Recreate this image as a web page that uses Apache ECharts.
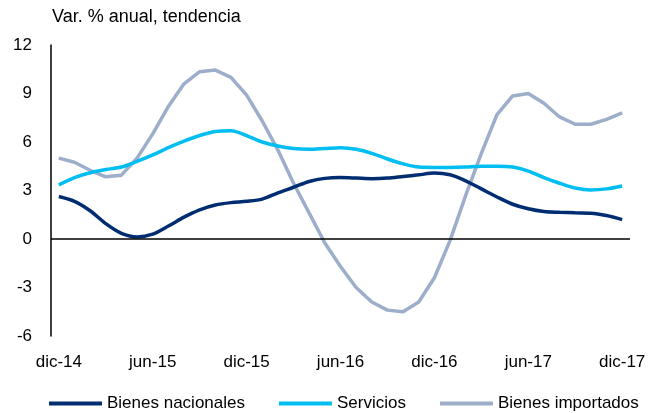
<!DOCTYPE html>
<html>
<head>
<meta charset="utf-8">
<script src="https://cdn.jsdelivr.net/npm/echarts@6/dist/echarts.min.js"></script>
<style>
  html, body { margin: 0; padding: 0; background: #fff; }
  #chart { width: 663px; height: 413px; }
</style>
</head>
<body>
<div id="chart"></div>
<script>
// meses dic-14 .. dic-17
const months = ['dic-14', 'ene-15', 'feb-15', 'mar-15', 'abr-15', 'may-15', 'jun-15', 'jul-15', 'ago-15', 'sep-15', 'oct-15', 'nov-15',
  'dic-15', 'ene-16', 'feb-16', 'mar-16', 'abr-16', 'may-16', 'jun-16', 'jul-16', 'ago-16', 'sep-16', 'oct-16', 'nov-16',
  'dic-16', 'ene-17', 'feb-17', 'mar-17', 'abr-17', 'may-17', 'jun-17', 'jul-17', 'ago-17', 'sep-17', 'oct-17', 'nov-17', 'dic-17']

const bienesNacionales = [2.63, 2.33, 1.75, 0.95, 0.35, 0.13, 0.3, 0.8, 1.35, 1.8, 2.1, 2.25,
  2.33, 2.47, 2.85, 3.2, 3.56, 3.75, 3.8, 3.77, 3.73, 3.77, 3.87, 3.97,
  4.08, 3.97, 3.6, 3.1, 2.6, 2.15, 1.87, 1.7, 1.65, 1.62, 1.6, 1.45, 1.2]

const servicios = [3.35, 3.8, 4.1, 4.3, 4.45, 4.8, 5.2, 5.65, 6.05, 6.4, 6.65, 6.7,
  6.4, 6.0, 5.75, 5.6, 5.55, 5.6, 5.65, 5.55, 5.3, 4.95, 4.65, 4.45,
  4.43, 4.43, 4.45, 4.5, 4.5, 4.45, 4.2, 3.8, 3.45, 3.15, 3.03, 3.1, 3.28]

const bienesImportados = [5.0, 4.75, 4.25, 3.85, 3.95, 5.0, 6.5, 8.2, 9.6, 10.35, 10.45, 10.0,
  8.9, 7.3, 5.5, 3.45, 1.6, -0.25, -1.7, -3.0, -3.9, -4.4, -4.5, -3.9,
  -2.4, -0.1, 2.7, 5.3, 7.7, 8.85, 9.0, 8.4, 7.55, 7.1, 7.1, 7.4, 7.8]

const font = 'Liberation Sans, Arial, sans-serif'

const chartInstance = echarts.init(document.getElementById('chart'))

const option = {
  backgroundColor: '#fff',
  animation: false,
  title: {
    text: 'Var. % anual, tendencia',
    left: 52,
    top: 8,
    padding: 0,
    textStyle: { fontFamily: font, fontSize: 18, fontWeight: 'normal', color: '#000' },
  },
  legend: {
    left: 44,
    top: 390,
    icon: 'rect',
    itemWidth: 53,
    itemHeight: 4,
    itemGap: 34,
    textStyle: { fontFamily: font, fontSize: 17, color: '#000' },
    data: ['Bienes nacionales', 'Servicios', 'Bienes importados'],
  },
  grid: {
    left: 51,
    right: 33,
    top: 45,
    bottom: 77,
  },
  xAxis: {
    type: 'category',
    data: months,
    boundaryGap: true,
    axisLine: { show: false },
    axisTick: { show: false },
    axisLabel: {
      interval: 5,
      margin: 18,
      fontFamily: font,
      fontSize: 17,
      color: '#000',
    },
  },
  yAxis: {
    type: 'value',
    min: -6,
    max: 12,
    interval: 3,
    axisLine: { show: true, lineStyle: { color: '#000', width: 1.5 } },
    axisTick: { show: false },
    splitLine: { show: false },
    axisLabel: {
      margin: 19,
      fontFamily: font,
      fontSize: 17,
      color: '#000',
    },
  },
  series: [
    {
      name: 'Bienes nacionales',
      type: 'line',
      data: bienesNacionales,
      symbol: 'none',
      smooth: 0.3,
      z: 4,
      itemStyle: { color: '#002D72' },
      lineStyle: { color: '#002D72', width: 3.5 },
      // linea del cero
      markLine: {
        silent: true,
        symbol: 'none',
        label: { show: false },
        lineStyle: { color: '#000', width: 1.5, type: 'solid' },
        data: [{ yAxis: 0 }],
      },
    },
    {
      name: 'Servicios',
      type: 'line',
      data: servicios,
      symbol: 'none',
      smooth: 0.3,
      z: 3,
      itemStyle: { color: '#00BEF2' },
      lineStyle: { color: '#00BEF2', width: 3.5 },
    },
    {
      name: 'Bienes importados',
      type: 'line',
      data: bienesImportados,
      symbol: 'none',
      z: 2,
      itemStyle: { color: '#9DAECA' },
      lineStyle: { color: '#9DAECA', width: 3.5 },
    },
  ],
}

chartInstance.setOption(option)
</script>
</body>
</html>
